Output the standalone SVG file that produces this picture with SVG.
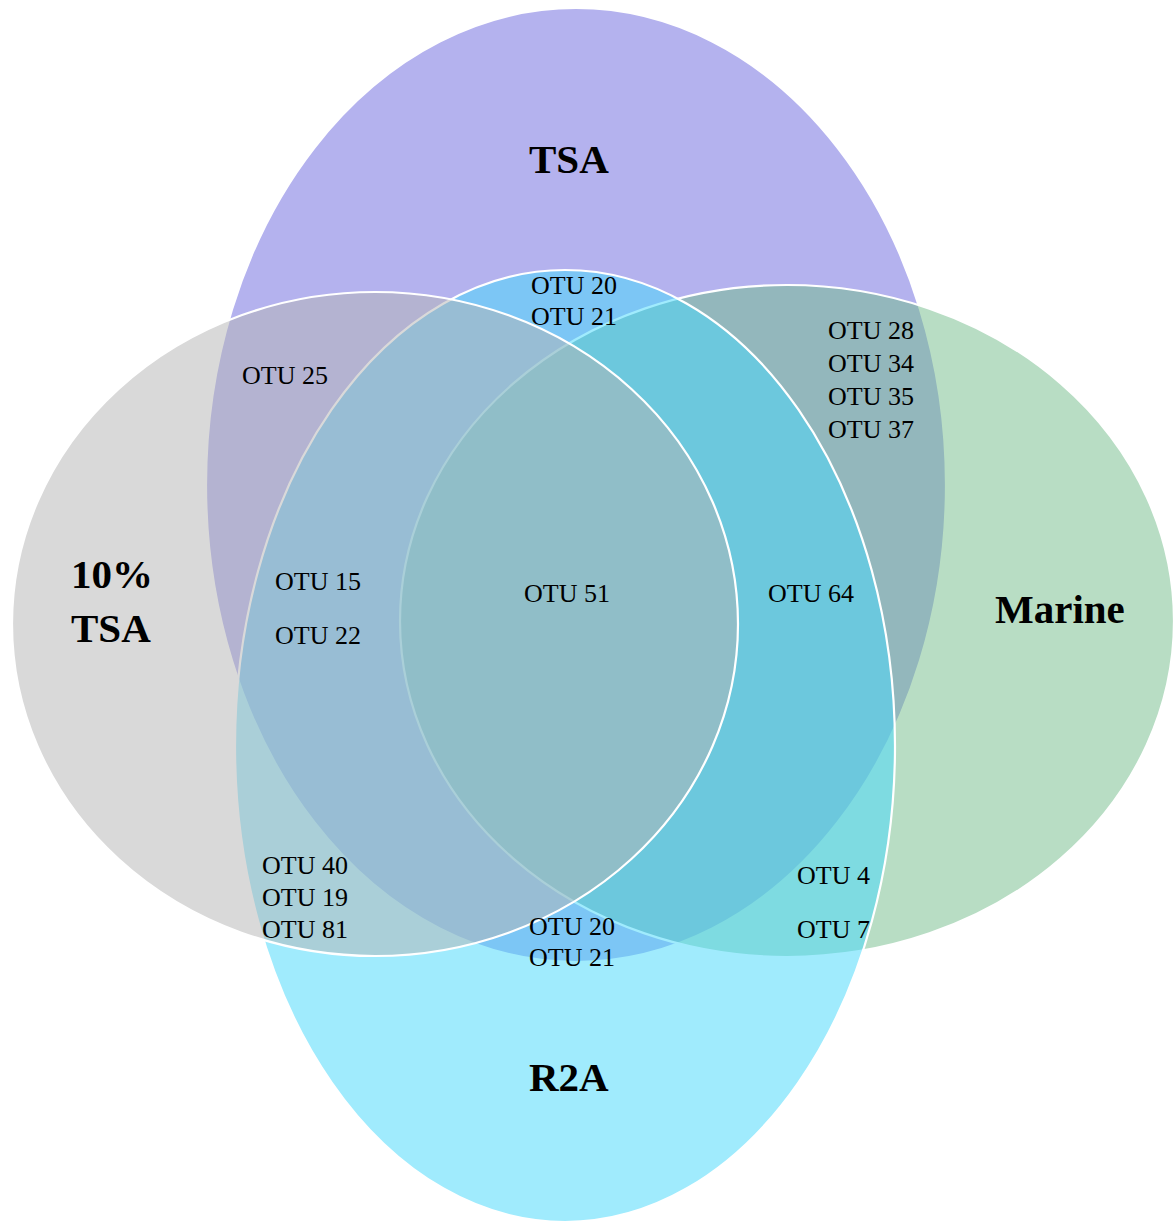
<svg xmlns="http://www.w3.org/2000/svg" width="1174" height="1222" viewBox="0 0 1174 1222">
<style>
.set{stroke:#ffffff;stroke-width:2.2}
.otu{font-family:"Liberation Serif","Times New Roman",serif;font-size:26px;fill:#000}
.title{font-family:"Liberation Serif","Times New Roman",serif;font-size:41px;font-weight:bold;fill:#000}
</style>
<rect width="1174" height="1222" fill="#ffffff"/>
<g id="set-tsa">
<ellipse class="set" cx="576" cy="485" rx="370" ry="477" fill="#b4b2ee"/>
</g>
<g id="set-marine">
<ellipse class="set" cx="787" cy="621" rx="387" ry="336" fill="#71bb89" fill-opacity="0.5"/>
</g>
<g id="set-r2a">
<ellipse class="set" cx="565" cy="746" rx="330" ry="476" fill="#48d8fb" fill-opacity="0.52"/>
</g>
<g id="set-10tsa">
<ellipse class="set" cx="375" cy="624" rx="363" ry="332" fill="#b3b3b3" fill-opacity="0.5"/>
</g>
<g id="connectors"></g>
<g id="labels">
<text class="title" x="529" y="173">TSA</text>
<text class="title" x="995" y="623">Marine</text>
<text class="title" x="529" y="1091">R2A</text>
<text class="title" x="71" y="588">10%</text>
<text class="title" x="71" y="642">TSA</text>
</g>
<g id="otus">
<text class="otu" x="531" y="294">OTU 20</text>
<text class="otu" x="531" y="325">OTU 21</text>
<text class="otu" x="242" y="384">OTU 25</text>
<text class="otu" x="828" y="339">OTU 28</text>
<text class="otu" x="828" y="372">OTU 34</text>
<text class="otu" x="828" y="405">OTU 35</text>
<text class="otu" x="828" y="438">OTU 37</text>
<text class="otu" x="275" y="590">OTU 15</text>
<text class="otu" x="275" y="644">OTU 22</text>
<text class="otu" x="524" y="602">OTU 51</text>
<text class="otu" x="768" y="602">OTU 64</text>
<text class="otu" x="262" y="874">OTU 40</text>
<text class="otu" x="262" y="906">OTU 19</text>
<text class="otu" x="262" y="938">OTU 81</text>
<text class="otu" x="529" y="935">OTU 20</text>
<text class="otu" x="529" y="966">OTU 21</text>
<text class="otu" x="797" y="884">OTU 4</text>
<text class="otu" x="797" y="938">OTU 7</text>
</g>
</svg>
